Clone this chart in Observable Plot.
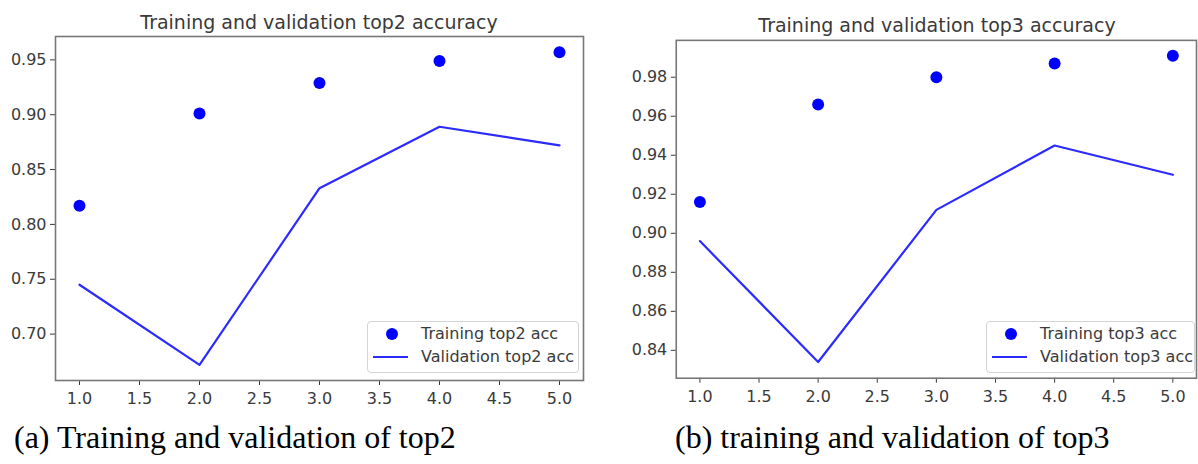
<!DOCTYPE html>
<html>
<head>
<meta charset="utf-8">
<script src="https://cdn.jsdelivr.net/npm/d3@7"></script>
<script src="https://cdn.jsdelivr.net/npm/@observablehq/plot@0.6"></script>
<style>
  html, body { margin: 0; padding: 0; background: #fff; }
  #page { position: relative; width: 1198px; height: 464px; overflow: hidden; background: #fff; }
  .panel { position: absolute; top: 0; }
  .title { position: absolute; font-family: "DejaVu Sans", sans-serif; font-size: 19px; line-height: 19px; color: #3a3a3a; white-space: nowrap; transform: translateX(-50%); }
  .caption { position: absolute; font-family: "Liberation Serif", "Times New Roman", serif; font-size: 32px; line-height: 32px; color: #000; white-space: nowrap; }
  .legend { position: absolute; box-sizing: border-box; border: 1px solid #d4d4d4; border-radius: 4px; background: rgba(255,255,255,0.85); font-family: "DejaVu Sans", sans-serif; font-size: 16px; color: #3a3a3a; }
  .legend .row { position: absolute; left: 0; height: 20px; line-height: 20px; white-space: nowrap; }
  .legend .dot { position: absolute; width: 12px; height: 12px; border-radius: 6px; background: #0000ff; top: 4px; }
  .legend .ln { position: absolute; height: 2.2px; background: #2b2bff; top: 9px; }
  .legend .txt { position: absolute; top: 0; }
</style>
</head>
<body>
<div id="page"></div>
<script>
// ---- data ----
const epochs = [1, 2, 3, 4, 5];
const top2Train = [0.817, 0.901, 0.929, 0.949, 0.957];
const top2Val   = [0.745, 0.672, 0.833, 0.889, 0.872];
const top3Train = [0.916, 0.966, 0.980, 0.987, 0.991];
const top3Val   = [0.896, 0.834, 0.912, 0.945, 0.930];
const xTicks = [1.0, 1.5, 2.0, 2.5, 3.0, 3.5, 4.0, 4.5, 5.0];
const top2YTicks = [0.70, 0.75, 0.80, 0.85, 0.90, 0.95];
const top3YTicks = [0.84, 0.86, 0.88, 0.90, 0.92, 0.94, 0.96, 0.98];
const titles = ["Training and validation top2 accuracy", "Training and validation top3 accuracy"];
const captions = ["(a) Training and validation of top2", "(b) training and validation of top3"];
const legendLabels = [["Training top2 acc", "Validation top2 acc"], ["Training top3 acc", "Validation top3 acc"]];

const page = document.getElementById("page");

function panel(cfg) {
  const train = epochs.map((e, i) => ({epoch: e, acc: cfg.train[i]}));
  const val = epochs.map((e, i) => ({epoch: e, acc: cfg.val[i]}));
  const chart = Plot.plot({
    width: cfg.width,
    height: 420,
    marginLeft: cfg.ml,
    marginRight: cfg.mr,
    marginTop: cfg.mt,
    marginBottom: 420 - cfg.bottom,
    style: {fontFamily: "DejaVu Sans, sans-serif", fontSize: "16px", color: "#3a3a3a", background: "transparent", overflow: "visible"},
    x: {domain: [0.8, 5.2], ticks: xTicks, tickFormat: d => d.toFixed(1), tickSize: 5, tickPadding: 7, label: null},
    y: {domain: cfg.ydomain, ticks: cfg.yticks, tickFormat: d => d.toFixed(2), tickSize: 5, tickPadding: 4, label: null},
    marks: [
      Plot.frame({stroke: "#777", strokeWidth: 1.6}),
      Plot.line(val, {x: "epoch", y: "acc", stroke: "#2b2bff", strokeWidth: 2.2}),
      Plot.dot(train, {x: "epoch", y: "acc", r: 6, fill: "#0000ff", stroke: "none"})
    ]
  });
  const wrap = document.createElement("div");
  wrap.className = "panel";
  wrap.style.left = cfg.left + "px";
  wrap.appendChild(chart);
  page.appendChild(wrap);

  const t = document.createElement("div");
  t.className = "title";
  t.textContent = cfg.title;
  t.style.left = cfg.titleX + "px";
  t.style.top = cfg.titleTop + "px";
  page.appendChild(t);

  const c = document.createElement("div");
  c.className = "caption";
  c.textContent = cfg.caption;
  c.style.left = cfg.capX + "px";
  c.style.top = "421px";
  page.appendChild(c);

  const lg = document.createElement("div");
  lg.className = "legend";
  lg.style.left = cfg.lg[0] + "px";
  lg.style.top = cfg.lg[1] + "px";
  lg.style.width = cfg.lg[2] + "px";
  lg.style.height = cfg.lg[3] + "px";
  const r1 = document.createElement("div");
  r1.className = "row"; r1.style.top = "2px";
  r1.innerHTML = '<span class="dot" style="left:18px"></span><span class="txt" style="left:53px"></span>';
  r1.querySelector(".txt").textContent = cfg.legend[0];
  const r2 = document.createElement("div");
  r2.className = "row"; r2.style.top = "25px";
  r2.innerHTML = '<span class="ln" style="left:5px;width:35px"></span><span class="txt" style="left:53px"></span>';
  r2.querySelector(".txt").textContent = cfg.legend[1];
  lg.appendChild(r1); lg.appendChild(r2);
  page.appendChild(lg);
}

panel({
  left: 0, width: 600, ml: 55, mr: 17, mt: 36, bottom: 380,
  ydomain: [0.6577, 0.9713], yticks: top2YTicks,
  train: top2Train, val: top2Val,
  title: titles[0], titleX: 319, titleTop: 13,
  caption: captions[0], capX: 14,
  legend: legendLabels[0], lg: [367, 321, 212, 52]
});
panel({
  left: 600, width: 600, ml: 76, mr: 2, mt: 40, bottom: 379,
  ydomain: [0.8257, 0.9989], yticks: top3YTicks,
  train: top3Train, val: top3Val,
  title: titles[1], titleX: 937, titleTop: 16,
  caption: captions[1], capX: 675,
  legend: legendLabels[1], lg: [986, 321, 209, 52]
});
</script>
</body>
</html>
